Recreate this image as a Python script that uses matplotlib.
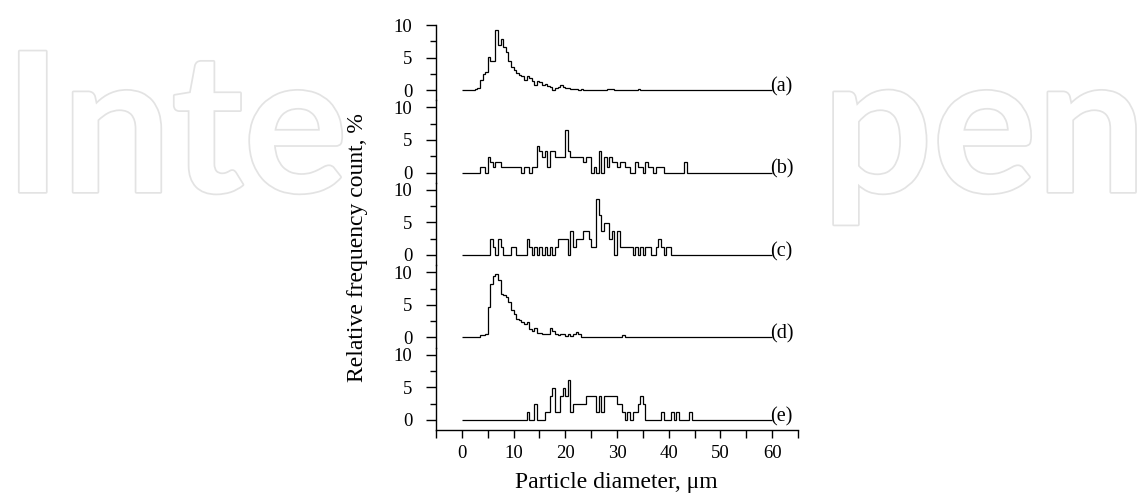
import numpy as np
import matplotlib.pyplot as plt
from matplotlib.ticker import MultipleLocator
import matplotlib.patheffects as pe

plt.rcParams['font.family'] = ['Liberation Serif', 'DejaVu Serif']

# histogram data, 0.5 um bins from 0 to 60 um
#-----------------------------------------------------------------------------#
bin_width = 0.5
d_min, d_max = 0, 60

hist_a = [0, 0, 0, 0, 0, 0.1, 0.3, 1.6, 2.5, 2.7,
          5.1, 4.4, 4.4, 9.2, 7.0, 7.9, 6.6, 5.9, 4.4, 3.6,
          3.1, 2.6, 2.3, 2.1, 1.5, 2.2, 1.9, 1.4, 0.8, 1.4,
          1.2, 0.8, 0.9, 0.6, 0.5, 0, 0.3, 0.4, 0.7, 0.4,
          0.3, 0.3, 0.2, 0.1, 0.1, 0, 0.1, 0, 0, 0,
          0, 0, 0, 0, 0, 0, 0.1, 0.1, 0.1, 0,
          0, 0, 0, 0, 0, 0, 0, 0, 0.1, 0,
          0, 0, 0, 0, 0, 0, 0, 0, 0, 0,
          0, 0, 0, 0, 0, 0, 0, 0, 0, 0,
          0, 0, 0, 0, 0, 0, 0, 0, 0, 0,
          0, 0, 0, 0, 0, 0, 0, 0, 0, 0,
          0, 0, 0, 0, 0, 0, 0, 0, 0, 0]

hist_b = [0, 0, 0, 0, 0, 0, 0, 0.8, 0.8, 0,
          2.4, 1.6, 0.8, 1.6, 1.6, 0.8, 0.8, 0.8, 0.8, 0.8,
          0.8, 0.8, 0.8, 0, 0.8, 0.8, 0, 0.8, 0.8, 4.1,
          3.3, 2.4, 3.3, 0.8, 3.3, 3.3, 2.4, 2.4, 2.4, 2.4,
          6.5, 3.3, 2.4, 2.4, 2.4, 2.4, 2.4, 1.6, 2.4, 2.4,
          0, 0.8, 0, 3.3, 0, 2.4, 0.8, 2.4, 1.6, 1.6,
          0.8, 1.6, 1.6, 0.8, 0.8, 0, 0, 1.6, 0.8, 0.8,
          0, 1.6, 0.8, 0.8, 0, 0.8, 0.8, 0.8, 0, 0,
          0, 0, 0, 0, 0, 0, 1.6, 0, 0, 0,
          0, 0, 0, 0, 0, 0, 0, 0, 0, 0,
          0, 0, 0, 0, 0, 0, 0, 0, 0, 0,
          0, 0, 0, 0, 0, 0, 0, 0, 0, 0]

hist_c = [0, 0, 0, 0, 0, 0, 0, 0, 0, 0,
          0, 2.5, 1.2, 0, 2.5, 1.2, 0, 0, 0, 1.2,
          1.2, 0, 0, 0, 0, 2.5, 1.2, 0, 1.2, 0,
          1.2, 0, 1.2, 0, 1.2, 0, 1.2, 2.5, 2.5, 2.5,
          2.5, 0, 3.7, 1.2, 2.5, 2.5, 2.5, 3.7, 3.7, 2.5,
          1.2, 1.2, 8.6, 6.2, 3.7, 4.9, 4.9, 2.5, 3.7, 0,
          3.7, 1.2, 1.2, 1.2, 1.2, 1.2, 0, 1.2, 0, 1.2,
          0, 1.2, 1.2, 0, 0, 1.2, 2.5, 1.2, 0, 1.2,
          1.2, 0, 0, 0, 0, 0, 0, 0, 0, 0,
          0, 0, 0, 0, 0, 0, 0, 0, 0, 0,
          0, 0, 0, 0, 0, 0, 0, 0, 0, 0,
          0, 0, 0, 0, 0, 0, 0, 0, 0, 0]

hist_d = [0, 0, 0, 0, 0.15, 0.15, 0.1, 0.35, 0.35, 0.5,
          4.7, 8.2, 9.5, 9.8, 8.9, 6.7, 6.5, 6.3, 5.5, 4.2,
          3.6, 2.9, 2.7, 2.4, 2.1, 2.4, 1.3, 1.05, 1.4, 0.7,
          0.7, 0.5, 0.5, 0.6, 1.4, 1.0, 0.6, 0.4, 0.5, 0.5,
          0.25, 0.5, 0.25, 0.5, 0.8, 0.5, 0.1, 0.15, 0.15, 0.1,
          0.15, 0.15, 0.1, 0.15, 0.05, 0.05, 0.05, 0.05, 0.05, 0.05,
          0.05, 0.05, 0.35, 0.05, 0.15, 0.05, 0, 0, 0, 0,
          0, 0, 0, 0, 0, 0, 0.15, 0, 0, 0,
          0, 0, 0, 0, 0, 0, 0, 0, 0, 0,
          0, 0, 0, 0, 0, 0, 0, 0, 0, 0,
          0, 0, 0, 0, 0, 0, 0, 0, 0, 0,
          0, 0, 0, 0, 0, 0, 0, 0, 0, 0]

hist_e = [0, 0, 0, 0, 0, 0, 0, 0, 0, 0,
          0, 0, 0, 0, 0, 0, 0, 0, 0, 0,
          0, 0, 0, 0, 0, 1.2, 0, 0, 2.4, 0,
          0, 0, 1.2, 1.2, 3.7, 4.9, 1.2, 1.2, 3.7, 4.9,
          3.7, 6.1, 1.2, 2.4, 2.4, 2.4, 2.4, 2.4, 3.7, 3.7,
          3.7, 3.7, 1.2, 3.7, 1.2, 3.7, 3.7, 3.7, 3.7, 3.7,
          2.4, 2.4, 1.2, 0, 1.2, 0, 1.2, 1.2, 2.4, 3.7,
          2.4, 0, 0, 0, 0, 0, 0, 1.2, 0, 0,
          0, 1.2, 0, 1.2, 0, 0, 0, 0, 1.2, 0,
          0, 0, 0, 0, 0, 0, 0, 0, 0, 0,
          0, 0, 0, 0, 0, 0, 0, 0, 0, 0,
          0, 0, 0, 0, 0, 0, 0, 0, 0, 0]

panel_labels = ['(a)', '(b)', '(c)', '(d)', '(e)']
hists = [hist_a, hist_b, hist_c, hist_d, hist_e]

# figure
#-----------------------------------------------------------------------------#
W, H = 1148, 498
fig = plt.figure(figsize=(W/100, H/100), dpi=100)

# faint publisher watermark behind the plot (outlined letters)
wm = dict(fontsize=140, family='Lato', weight='bold', color='white', zorder=-3,
          va='baseline', path_effects=[pe.withStroke(linewidth=2.5, foreground='#e3e3e3')])
fig.text(4/W, 1-192/H, 'Inte', ha='left', **wm)
fig.text(1146/W, 1-192/H, 'pen', ha='right', **wm)

y_lo, y_hi = -1.54, 11.15
ratios = [10-y_lo] + [y_hi-y_lo]*4
gs = fig.add_gridspec(5, 1, left=436/W, right=798/W, top=1-25/H, bottom=1-430/H,
                      hspace=0, height_ratios=ratios)

edges = np.arange(d_min, d_max + bin_width/2, bin_width)

for i, (h, lab) in enumerate(zip(hists, panel_labels)):
    ax = fig.add_subplot(gs[i])
    ax.set_facecolor('none')
    ax.stairs(h, edges, color='black', lw=0.9)
    ax.set_xlim(-5, 65)
    ax.set_ylim(y_lo, 10 if i == 0 else y_hi)
    for s in ['top', 'right']:
        ax.spines[s].set_visible(False)
    ax.spines['left'].set_linewidth(1.0)
    ax.set_yticks([0, 5, 10])
    ax.yaxis.set_minor_locator(MultipleLocator(2.5))
    ax.tick_params(axis='y', which='major', length=7, width=1.0, labelsize=13.5, pad=10)
    ax.tick_params(axis='y', which='minor', length=4.5, width=1.0)
    ax.text(59.6, 0.5, lab, ha='left', va='center', fontsize=14.5)
    if i < 4:
        ax.spines['bottom'].set_visible(False)
        ax.tick_params(axis='x', which='both', bottom=False, labelbottom=False)
    else:
        ax.spines['bottom'].set_linewidth(1.0)
        ax.xaxis.set_minor_locator(MultipleLocator(5))
        ax.set_xticks([0, 10, 20, 30, 40, 50, 60])
        ax.tick_params(axis='x', which='major', length=6, width=1.0, labelsize=13.5, pad=5)
        ax.tick_params(axis='x', which='minor', length=6, width=1.0)

fig.text(616/W, 1-482/H, 'Particle diameter, \u03bcm', ha='center', va='center', fontsize=17)
fig.text(358/W, 1-248/H, 'Relative frequency count, %', ha='center', va='center',
         rotation=90, fontsize=17)

fig.savefig('out.png', dpi=100)
